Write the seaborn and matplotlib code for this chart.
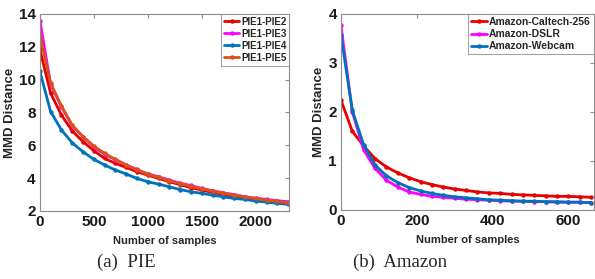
import numpy as np
import pandas as pd
import matplotlib
matplotlib.use("Agg")
import matplotlib.pyplot as plt
import seaborn as sns

# PIE panel (samples every 100)
pie_samples = list(range(0, 2301, 100))
pie12 = [11.85, 9.16, 7.84, 6.87, 6.22, 5.67, 5.20, 4.90, 4.65, 4.39, 4.18, 3.98,
         3.78, 3.60, 3.42, 3.27, 3.13, 3.00, 2.90, 2.78, 2.70, 2.62, 2.54, 2.46]
pie13 = [13.60, 9.70, 8.35, 7.17, 6.52, 5.90, 5.45, 5.13, 4.80, 4.53, 4.25, 4.08,
         3.88, 3.68, 3.55, 3.37, 3.23, 3.10, 3.00, 2.86, 2.78, 2.70, 2.62, 2.56]
pie14 = [10.50, 8.05, 6.93, 6.15, 5.60, 5.14, 4.80, 4.49, 4.25, 3.98, 3.78, 3.63,
         3.47, 3.30, 3.17, 3.07, 2.96, 2.86, 2.76, 2.70, 2.60, 2.54, 2.46, 2.40]
pie15 = [12.72, 9.77, 8.39, 7.23, 6.52, 5.95, 5.50, 5.14, 4.80, 4.49, 4.25, 4.04,
         3.84, 3.67, 3.50, 3.35, 3.20, 3.08, 2.96, 2.86, 2.76, 2.66, 2.58, 2.50]

# Amazon panel (samples every 30)
amz_samples = list(range(0, 661, 30))
caltech = [2.24, 1.60, 1.30, 1.04, 0.87, 0.75, 0.65, 0.57, 0.51, 0.46, 0.42, 0.39,
           0.36, 0.34, 0.33, 0.31, 0.30, 0.29, 0.28, 0.27, 0.27, 0.26, 0.25]
dslr = [3.77, 2.00, 1.22, 0.84, 0.60, 0.46, 0.36, 0.31, 0.27, 0.25, 0.23, 0.21,
        0.20, 0.19, 0.18, 0.17, 0.17, 0.16, 0.16, 0.15, 0.15, 0.15, 0.14]
webcam = [3.57, 2.03, 1.32, 0.91, 0.69, 0.55, 0.45, 0.38, 0.33, 0.29, 0.26, 0.24,
          0.22, 0.20, 0.19, 0.18, 0.17, 0.17, 0.16, 0.16, 0.15, 0.15, 0.14]

RED = "#e60000"
MAG = "#ff00ff"
BLUE = "#0072bd"
ORANGE = "#d95319"

sns.set_style("white")
plt.rcParams['font.family'] = ['Liberation Sans', 'DejaVu Sans']
plt.rcParams['font.weight'] = 'bold'

fig = plt.figure(figsize=(5.95, 2.79), dpi=100)
ax1 = fig.add_axes([0.067, 0.244, 0.419, 0.706])
ax2 = fig.add_axes([0.573, 0.249, 0.425, 0.701])


def draw(ax, x, series, labels, colors):
    for y, lab, c in zip(series, labels, colors):
        sns.lineplot(x=x, y=y, ax=ax, color=c, label=lab, linewidth=2.0,
                     marker='o', markersize=3.2, markeredgewidth=0)


def style(ax):
    for s in ax.spines.values():
        s.set_color("#8c8c8c")
        s.set_linewidth(0.8)
    ax.tick_params(direction='in', top=True, right=True, length=3,
                   color="#8c8c8c", labelsize=11, pad=3, labelcolor="#1a1a1a")
    for t in ax.get_xticklabels() + ax.get_yticklabels():
        t.set_fontweight('bold')
    ax.set_xlabel("Number of samples", fontsize=8, fontweight='bold', labelpad=5)
    ax.set_ylabel("MMD Distance", fontsize=9.5, fontweight='bold', labelpad=2)


def legend(ax, size):
    leg = ax.legend(loc="upper right", borderaxespad=0, frameon=True,
                    fancybox=False, handlelength=1.5, handletextpad=0.2,
                    labelspacing=0.2, borderpad=0.3,
                    prop={'weight': 'bold', 'size': size})
    leg.get_frame().set_edgecolor("#8c8c8c")
    leg.get_frame().set_linewidth(0.8)


draw(ax1, pie_samples, [pie12, pie13, pie14, pie15],
     ["PIE1-PIE2", "PIE1-PIE3", "PIE1-PIE4", "PIE1-PIE5"],
     [RED, MAG, BLUE, ORANGE])
ax1.set_xlim(0, 2310)
ax1.set_ylim(2, 14)
ax1.set_xticks([0, 500, 1000, 1500, 2000])
ax1.set_yticks([2, 4, 6, 8, 10, 12, 14])
style(ax1)
legend(ax1, 7)

draw(ax2, amz_samples, [caltech, dslr, webcam],
     ["Amazon-Caltech-256", "Amazon-DSLR", "Amazon-Webcam"],
     [RED, MAG, BLUE])
ax2.set_xlim(0, 667)
ax2.set_ylim(0, 4)
ax2.set_xticks([0, 200, 400, 600])
ax2.set_yticks([0, 1, 2, 3, 4])
style(ax2)
legend(ax2, 7.5)

fig.text(0.213, 0.045, "(a)  PIE", family=['Liberation Serif', 'DejaVu Serif'],
         fontsize=13.5, fontweight='normal', ha='center')
fig.text(0.672, 0.045, "(b)  Amazon", family=['Liberation Serif', 'DejaVu Serif'],
         fontsize=13.5, fontweight='normal', ha='center')

fig.savefig("out.png", dpi=100)
